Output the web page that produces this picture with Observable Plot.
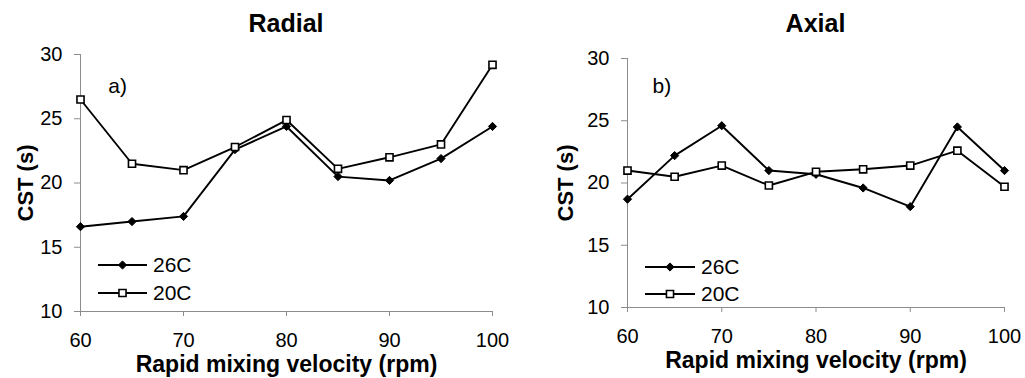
<!DOCTYPE html>
<html><head><meta charset="utf-8">
<script src="https://cdn.jsdelivr.net/npm/d3@7"></script>
<script src="https://cdn.jsdelivr.net/npm/@observablehq/plot@0.6"></script>
<style>
body{margin:0;background:#fff;font-family:"Liberation Sans",Arial,sans-serif;}
#wrap{position:relative;width:1025px;height:378px;overflow:hidden;background:#fff;}
.panel{position:absolute;top:0;height:378px;}
.panel svg.plot{position:absolute;top:40px;left:0;}
.title{position:absolute;top:9px;font-weight:bold;font-size:25px;line-height:28px;text-align:center;color:#000;}
.legend{position:absolute;left:0;top:0;overflow:visible;}
</style></head><body><div id="wrap"></div>
<script>
// Data
const velocities = [60, 65, 70, 75, 80, 85, 90, 95, 100];
const seriesNames = ["26C", "20C"];
const radial26 = [16.6, 17.0, 17.4, 22.6, 24.4, 20.5, 20.2, 21.9, 24.4];
const radial20 = [26.5, 21.5, 21.0, 22.8, 24.9, 21.1, 22.0, 23.0, 29.2];
const axial26 = [18.7, 22.2, 24.6, 21.0, 20.7, 19.6, 18.1, 24.5, 21.0];
const axial20 = [21.0, 20.5, 21.4, 19.8, 20.9, 21.1, 21.4, 22.6, 19.7];
const xTicks = [60, 70, 80, 90, 100];
const yTicks = [10, 15, 20, 25, 30];
const panelTitles = ["Radial", "Axial"];
const panelTags = ["a)", "b)"];
const tagPos = [{x: 62.7, y: 27.5}, {x: 62.65, y: 27.8}];
const xLabel = "Rapid mixing velocity (rpm)";
const yLabel = "CST (s)";

const FONT = '"Liberation Sans", Arial, sans-serif';

function rows(a26, a20) {
  const out = [];
  velocities.forEach((v, i) => out.push({v, cst: a26[i], s: "26C"}));
  velocities.forEach((v, i) => out.push({v, cst: a20[i], s: "20C"}));
  return out;
}

function panel(idx, left, width, m, data, legend) {
  const div = document.createElement("div");
  div.className = "panel";
  div.style.left = left + "px";
  div.style.width = width + "px";
  const plotCenter = m.left + (width - m.left - m.right) / 2;
  const t = document.createElement("div");
  t.className = "title";
  t.textContent = panelTitles[idx];
  t.style.left = (plotCenter - 100) + "px";
  t.style.width = "200px";
  div.appendChild(t);

  const d26 = data.filter(d => d.s === "26C");
  const d20 = data.filter(d => d.s === "20C");
  const chart = Plot.plot({
    width, height: 338,
    marginLeft: m.left, marginRight: m.right, marginTop: m.top, marginBottom: m.bottom,
    style: {fontFamily: FONT, color: "#000", background: "transparent", overflow: "visible"},
    x: {domain: [60, 100]},
    y: {domain: [10, 30]},
    marks: [
      Plot.ruleX([60], {stroke: "#8c8c8c", strokeWidth: 1}),
      Plot.ruleY([10], {stroke: "#8c8c8c", strokeWidth: 1}),
      Plot.axisX({ticks: xTicks, tickSize: 5, tickPadding: 16, stroke: "#8c8c8c", fontSize: 20, label: null, fill: "#000"}),
      Plot.axisY({ticks: yTicks, tickSize: 6, tickPadding: 12, stroke: "#8c8c8c", fontSize: 20, label: null, fill: "#000"}),
      Plot.line(d26, {x: "v", y: "cst", stroke: "#000", strokeWidth: 1.9}),
      Plot.line(d20, {x: "v", y: "cst", stroke: "#000", strokeWidth: 1.9}),
      Plot.dot(d26, {x: "v", y: "cst", symbol: "diamond2", r: 3.7, fill: "#000", stroke: "#000", strokeWidth: 1}),
      Plot.dot(d20, {x: "v", y: "cst", symbol: "square", r: 4, fill: "#fff", stroke: "#000", strokeWidth: 1.6}),
      Plot.text([panelTags[idx]], {x: tagPos[idx].x, y: tagPos[idx].y, text: d => d, textAnchor: "start", fontSize: 21, fill: "#000"}),
      Plot.text([xLabel], {frameAnchor: "bottom", dy: 53, lineAnchor: "middle", textAnchor: "middle", text: d => d, fontSize: 23, fontWeight: "bold", fill: "#000"}),
      Plot.text([yLabel], {frameAnchor: "left", dx: -m.ylab, rotate: -90, textAnchor: "middle", lineAnchor: "middle", text: d => d, fontSize: 22, fontWeight: "bold", fill: "#000"})
    ]
  });
  chart.classList.add("plot");
  div.appendChild(chart);

  // legend overlay
  const ns = "http://www.w3.org/2000/svg";
  const svg = document.createElementNS(ns, "svg");
  svg.setAttribute("class", "legend");
  svg.setAttribute("width", width);
  svg.setAttribute("height", 378);
  seriesNames.forEach((name, k) => {
    const y = legend.y + k * legend.dy;
    const line = document.createElementNS(ns, "line");
    line.setAttribute("x1", legend.x0); line.setAttribute("x2", legend.x1);
    line.setAttribute("y1", y); line.setAttribute("y2", y);
    line.setAttribute("stroke", "#000"); line.setAttribute("stroke-width", 1.9);
    svg.appendChild(line);
    const cx = (legend.x0 + legend.x1) / 2;
    const p = document.createElementNS(ns, "path");
    const sym = name === "26C" ? d3.symbolDiamond2 : d3.symbolSquare;
    const r = name === "26C" ? 3.7 : 4;
    p.setAttribute("d", d3.symbol(sym, Math.PI * r * r)());
    p.setAttribute("transform", `translate(${cx},${y})`);
    p.setAttribute("fill", name === "26C" ? "#000" : "#fff");
    p.setAttribute("stroke", "#000");
    p.setAttribute("stroke-width", name === "26C" ? 1 : 1.6);
    svg.appendChild(p);
    const tx = document.createElementNS(ns, "text");
    tx.setAttribute("x", legend.x1 + 6);
    tx.setAttribute("y", y);
    tx.setAttribute("dy", "0.35em");
    tx.setAttribute("font-size", 21);
    tx.setAttribute("font-family", FONT);
    tx.textContent = name;
    svg.appendChild(tx);
  });
  div.appendChild(svg);
  document.getElementById("wrap").appendChild(div);
}

panel(0, 0, 512, {left: 80, right: 20, top: 14, bottom: 67, ylab: 55}, rows(radial26, radial20), {x0: 98, x1: 147, y: 265, dy: 28});
panel(1, 512, 513, {left: 115, right: 21, top: 18, bottom: 71, ylab: 62}, rows(axial26, axial20), {x0: 133, x1: 183, y: 267, dy: 27});
</script>
</body></html>
